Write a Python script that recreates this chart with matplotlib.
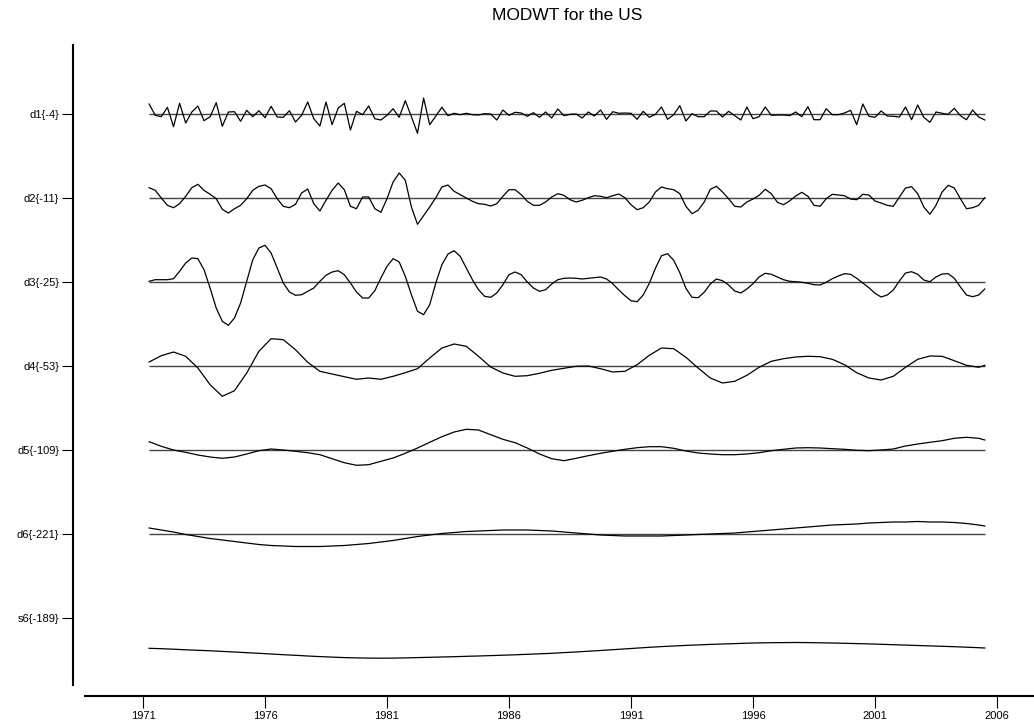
import numpy as np
import matplotlib
matplotlib.use("Agg")
import matplotlib.pyplot as plt

plt.rcParams['font.family'] = ['Liberation Sans', 'DejaVu Sans']

# quarterly sample dates, 1971Q2 .. 2005Q3
quarters = 1971.25 + np.arange(138) / 4.0
# smoother components are stored every other quarter (plus the last one)
half_years = np.append(quarters[::2], quarters[-1])

d1 = [10.0, -1.3, -2.7, 6.7, -12.7, 10.7, -9.0, 2.0, 8.0, -6.7, -2.7, 11.3, -12.3, 2.0, 2.3,
      -7.3, 3.7, -2.7, 3.3, -3.7, 7.7, -3.0, -3.3, 3.3, -8.0, -1.3, 12.0, -4.7, -12.0, 12.0,
      -10.7, 6.0, 10.7, -16.0, 2.7, -0.7, 8.0, -4.7, -6.0, -1.3, 5.3, -3.3, 13.3, -2.7, -19.3,
      16.0, -10.7, -2.0, 6.7, -1.7, 0.7, -0.7, 0.7, -0.7, -1.0, 0.3, 0.0, -6.0, 4.0, -1.3,
      1.7, 1.0, -2.3, 1.3, -3.3, 2.0, -4.0, 5.0, -1.7, -0.3, 0.0, -4.0, 2.0, -2.0, 4.0,
      -5.3, 2.3, 0.7, 1.0, 0.7, -5.3, 2.7, -3.3, -0.3, 7.0, -5.3, -0.7, 8.3, -7.0, 0.3,
      -2.7, -2.7, 3.0, 3.0, -3.0, 2.7, -1.7, -6.0, 7.0, -4.7, -2.7, 7.0, -1.3, -1.0, -1.0,
      -1.7, 2.0, -2.7, 7.3, -5.7, -5.7, 5.3, -0.7, -0.7, 1.0, 3.7, -10.7, 10.0, -2.3, -3.3,
      3.0, -2.0, -2.3, -3.0, 7.0, -5.7, 9.0, -3.3, -8.3, 2.0, 0.7, -0.3, 5.7, -1.7, -5.7,
      4.0, -3.0, -6.0]

d2 = [10.3, 7.7, 0.0, -7.3, -9.7, -5.7, 1.7, 10.3, 13.7, 7.7, 3.7, -0.7, -11.3, -15.0, -10.7,
      -7.3, -0.7, 7.7, 11.7, 13.0, 9.3, -0.7, -8.3, -9.7, -6.3, 5.0, 9.0, -5.7, -13.0, -2.3,
      7.7, 15.0, 8.3, -8.3, -10.7, 1.0, 1.0, -10.7, -14.3, -0.7, 16.0, 25.0, 17.7, -9.0, -26.3,
      -17.7, -9.0, 0.3, 11.0, 13.0, 6.7, 3.3, 0.0, -3.3, -5.7, -6.3, -8.0, -5.7, 1.7, 8.3,
      8.3, 3.3, -3.3, -7.3, -7.3, -4.0, 1.0, 4.3, 2.7, -1.7, -4.0, -2.3, 0.3, 2.3, 1.7,
      0.3, 2.3, 4.0, 0.3, -6.7, -11.7, -9.7, -4.0, 6.0, 11.0, 9.3, 8.3, 4.3, -8.3, -15.7,
      -12.3, -4.0, 8.7, 11.7, 6.0, -0.7, -8.3, -9.0, -4.0, -1.0, 2.7, 8.7, 4.3, -4.3, -6.7,
      -3.0, 2.0, 5.7, 1.7, -7.3, -8.3, -0.7, 3.7, 3.0, 2.3, -1.0, -1.7, 3.7, 3.0, -3.0,
      -5.0, -7.3, -8.3, 1.0, 10.0, 11.3, 4.3, -9.0, -16.3, -7.3, 6.0, 12.7, 10.0, -0.7, -10.7,
      -9.7, -7.3, 0.3]

d3 = [0.7, 2.3, 2.3, 2.3, 3.3, 10.7, 19.0, 24.0, 23.3, 12.3, -6.0, -26.0, -39.3, -43.3, -36.0,
      -21.0, 0.7, 22.3, 34.0, 36.7, 29.0, 14.0, -1.0, -10.0, -13.3, -12.7, -9.3, -6.0, 0.7, 6.7,
      10.0, 11.3, 7.3, -1.0, -10.0, -16.0, -16.0, -8.7, 4.0, 15.7, 23.3, 20.0, 5.7, -12.7, -29.3,
      -32.7, -22.7, -1.0, 17.3, 28.0, 31.3, 25.7, 14.0, 2.3, -7.7, -14.3, -15.3, -11.0, -2.7, 7.3,
      10.0, 7.3, 0.0, -6.0, -9.3, -7.7, -2.0, 2.3, 3.7, 4.0, 3.7, 3.0, 3.7, 4.3, 5.0,
      3.0, -1.7, -8.0, -13.7, -18.7, -19.7, -13.0, -1.3, 13.7, 26.3, 28.3, 21.7, 9.3, -6.3, -15.3,
      -15.7, -10.3, -2.0, 3.0, 1.3, -3.0, -9.0, -11.0, -7.0, -1.7, 5.0, 8.7, 7.7, 5.0, 2.3,
      0.7, 0.3, -0.3, -1.3, -2.7, -3.0, -0.3, 3.3, 6.0, 8.3, 7.7, 3.7, -1.0, -5.7, -11.3,
      -15.0, -13.0, -8.0, 1.0, 9.0, 10.3, 7.7, 2.0, 0.3, 5.0, 8.0, 8.3, 3.7, -5.0, -13.0,
      -14.7, -13.0, -7.0]

d4 = [4.0, 10.3, 14.0, 9.7, -2.0, -18.7, -30.3, -24.7, -7.0, 14.7, 27.3, 26.3, 16.3, 3.7,
      -5.3, -8.0, -10.7, -13.3, -12.0, -13.3, -10.3, -6.7, -2.7, 8.0, 18.0, 22.0, 19.7, 9.7,
      -1.0, -7.0, -10.3, -9.7, -7.3, -4.3, -2.3, -0.3, 0.0, -2.7, -6.0, -5.3, 1.3, 10.7,
      18.0, 17.3, 8.7, -2.0, -12.0, -17.0, -15.3, -9.3, -1.3, 4.7, 7.3, 9.0, 9.7, 9.3,
      6.7, 1.3, -6.7, -12.0, -14.0, -10.3, -1.3, 6.7, 10.0, 9.7, 5.3, 0.7, -1.3, 0.7]

d5 = [8.3, 3.7, 0.0, -2.3, -5.0, -7.0, -8.3, -7.0, -4.0, -0.7, 1.0, 0.0, -1.3, -2.7,
      -4.7, -8.7, -12.7, -15.3, -14.7, -11.3, -8.0, -3.3, 2.0, 7.7, 13.3, 18.0, 20.7, 20.0,
      15.3, 10.7, 7.3, 2.0, -4.0, -8.7, -10.7, -8.3, -5.7, -3.3, -1.3, 0.7, 2.3, 3.3,
      3.3, 1.7, -1.0, -3.0, -4.0, -4.7, -4.7, -4.0, -2.7, -0.7, 0.7, 2.0, 2.3, 2.0,
      1.3, 0.7, -0.3, -0.7, 0.0, 1.0, 4.0, 6.0, 7.7, 9.3, 11.7, 12.7, 11.7, 10.0]

d6 = [6.0, 4.0, 2.0, -0.5, -2.5, -4.5, -6.0, -7.5, -9.0, -10.5, -11.5, -12.0, -12.5, -12.5,
      -12.5, -12.0, -11.5, -10.5, -9.5, -8.0, -6.5, -4.5, -2.5, -1.0, 0.5, 1.5, 2.5, 3.0,
      3.5, 4.0, 4.0, 4.0, 3.5, 3.0, 2.0, 1.0, 0.0, -1.0, -1.5, -2.0, -2.0, -2.0,
      -2.0, -1.5, -1.0, -0.5, 0.0, 0.5, 1.0, 2.0, 3.0, 4.0, 5.0, 6.0, 7.0, 8.0,
      9.0, 9.5, 10.0, 11.0, 11.5, 12.0, 12.0, 12.5, 12.0, 12.0, 11.5, 10.5, 9.0, 8.0]

s6 = [-30.3, -30.7, -31.2, -31.8, -32.3, -32.8, -33.4, -34.0, -34.7, -35.3, -36.0, -36.7, -37.3, -38.0,
      -38.6, -39.1, -39.6, -39.9, -40.1, -40.2, -40.1, -39.9, -39.6, -39.3, -39.0, -38.7, -38.3, -38.0,
      -37.6, -37.2, -36.8, -36.3, -35.8, -35.3, -34.6, -34.0, -33.2, -32.5, -31.7, -30.9, -30.1, -29.3,
      -28.6, -28.0, -27.4, -26.9, -26.4, -26.0, -25.6, -25.2, -24.9, -24.7, -24.6, -24.5, -24.6, -24.8,
      -25.0, -25.3, -25.6, -25.9, -26.3, -26.7, -27.1, -27.5, -27.9, -28.3, -28.7, -29.2, -29.7, -30.0]

labels = ["d1{-4}", "d2{-11}", "d3{-25}", "d4{-53}", "d5{-109}", "d6{-221}", "s6{-189}"]
series = [(quarters, d1), (quarters, d2), (quarters, d3),
          (half_years, d4), (half_years, d5), (half_years, d6), (half_years, s6)]
year_ticks = [1971, 1976, 1981, 1986, 1991, 1996, 2001, 2006]

spacing = 84
levels = -spacing * np.arange(len(labels))

fig = plt.figure(figsize=(10.34, 7.26), dpi=100)
ax = fig.add_axes([85 / 1034, 41 / 726, 949 / 1034, 640 / 726])

for i, (tt, vals) in enumerate(series):
    # detail crystals get a zero line, the smooth does not
    if labels[i].startswith("d"):
        ax.hlines(levels[i], tt[0], tt[-1], color="#444444", lw=1.0)
    ax.plot(tt, levels[i] + np.asarray(vals), color="black", lw=0.9)

ax.set_xlim(1971 - 58 / 24.4, 1971 + 891 / 24.4)
ax.set_ylim(-571, 69)

for side in ("top", "right"):
    ax.spines[side].set_visible(False)
ax.spines["left"].set_position(("outward", 8.6))
ax.spines["bottom"].set_position(("outward", 7.9))
ax.spines["left"].set_linewidth(1.5)
ax.spines["bottom"].set_linewidth(1.5)

ax.set_yticks(levels)
ax.set_yticklabels(labels)
ax.set_xticks(year_ticks)
ax.set_xticklabels([str(y) for y in year_ticks])
ax.tick_params(axis="y", length=8, width=0.8, pad=2, labelsize=8)
ax.tick_params(axis="x", length=8.5, width=0.8, pad=2, labelsize=8)

fig.text(567 / 1034, 1 - 16 / 726, "MODWT for the US", ha="center", va="center", fontsize=12.5)

fig.savefig("out.png", dpi=100)
